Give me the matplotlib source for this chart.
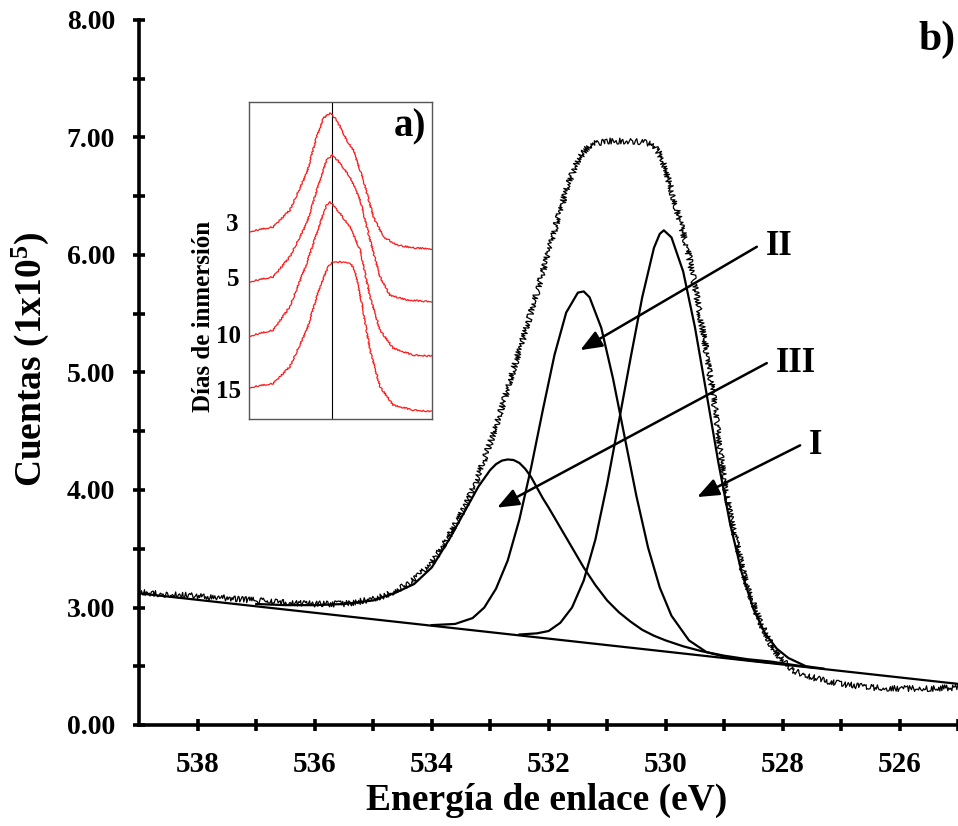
import matplotlib
matplotlib.use("Agg")
import matplotlib.pyplot as plt
from matplotlib.ticker import FixedLocator

plt.rcParams['font.family'] = ['Liberation Serif', 'DejaVu Serif']
plt.rcParams['font.weight'] = 'bold'
plt.rcParams['mathtext.fontset'] = 'custom'
plt.rcParams['mathtext.rm'] = 'Liberation Serif:bold'
plt.rcParams['mathtext.bf'] = 'Liberation Serif:bold'
plt.rcParams['mathtext.default'] = 'rm'

# ---- O 1s spectrum, counts in units of 1e5 (binding energy in eV) ----
env_E = [539.0, 538.5, 538.0, 537.5, 537.0, 536.5, 536.0, 535.5, 535.0, 534.8,
         534.6, 534.4, 534.2, 534.0, 533.8, 533.6, 533.4, 533.2, 533.0, 532.8,
         532.6, 532.4, 532.2, 532.0, 531.8, 531.7, 531.6, 531.5, 531.4, 531.3,
         531.2, 531.0, 530.8, 530.6, 530.4, 530.3, 530.2, 530.1, 530.0, 529.9,
         529.8, 529.7, 529.6, 529.5, 529.4, 529.3, 529.2, 529.1, 529.0, 528.9,
         528.8, 528.7, 528.6, 528.5, 528.4, 528.3, 528.2, 528.1, 528.0, 527.9,
         527.8, 527.6, 527.3, 527.0, 526.5, 526.0, 525.5, 525.0]
env_y = [3.13, 3.11, 3.10, 3.08, 3.06, 3.04, 3.03, 3.03, 3.07, 3.10,
         3.15, 3.20, 3.28, 3.38, 3.53, 3.70, 3.89, 4.12, 4.40, 4.70,
         5.03, 5.35, 5.68, 6.04, 6.38, 6.55, 6.69, 6.80, 6.88, 6.93,
         6.95, 6.97, 6.97, 6.97, 6.96, 6.95, 6.93, 6.86, 6.73, 6.55,
         6.37, 6.19, 5.99, 5.74, 5.46, 5.17, 4.86, 4.48, 4.08, 3.80,
         3.58, 3.36, 3.17, 3.03, 2.90, 2.79, 2.69, 2.61, 2.55, 2.50,
         2.46, 2.42, 2.38, 2.35, 2.32, 2.31, 2.31, 2.32]

# Linear background
bg_E = [539.0, 525.0]
bg_y = [3.12, 2.35]

# Component I (~530.0 eV)
p1_E = [532.5, 532.2, 532.0, 531.8, 531.6, 531.4, 531.2, 531.0, 530.8, 530.6,
        530.4, 530.2, 530.1, 530.03, 529.9, 529.7, 529.5, 529.3, 529.1, 528.9,
        528.7, 528.5, 528.3, 528.1, 527.9, 527.6, 527.3]
p1_y = [2.77, 2.78, 2.80, 2.87, 3.00, 3.23, 3.58, 4.05, 4.58, 5.12,
        5.64, 6.06, 6.18, 6.21, 6.15, 5.86, 5.39, 4.82, 4.24, 3.72,
        3.30, 2.99, 2.78, 2.65, 2.57, 2.50, 2.48]

# Component II (~531.4 eV)
p2_E = [534.0, 533.6, 533.3, 533.1, 532.9, 532.7, 532.5, 532.3, 532.1, 531.9,
        531.7, 531.5, 531.4, 531.3, 531.1, 530.9, 530.7, 530.5, 530.3, 530.1,
        529.9, 529.6, 529.3, 528.9, 528.4, 528.0]
p2_y = [2.85, 2.86, 2.91, 3.00, 3.16, 3.40, 3.75, 4.19, 4.68, 5.15,
        5.51, 5.68, 5.69, 5.64, 5.38, 4.95, 4.45, 3.95, 3.51, 3.17,
        2.93, 2.72, 2.62, 2.57, 2.54, 2.52]

# Component III (~532.7 eV)
p3_E = [537.0, 536.5, 536.0, 535.5, 535.0, 534.6, 534.3, 534.0, 533.8, 533.7,
        533.6, 533.5, 533.4, 533.3, 533.2, 533.1, 533.0, 532.9, 532.8, 532.7,
        532.6, 532.5, 532.4, 532.3, 532.2, 532.1, 532.0, 531.8, 531.6, 531.4,
        531.2, 531.0, 530.8, 530.6, 530.4, 530.2, 530.0, 529.7, 529.4, 529.0,
        528.6, 528.2, 527.8, 527.5]
p3_y = [3.03, 3.02, 3.02, 3.03, 3.06, 3.13, 3.20, 3.34, 3.50, 3.58,
        3.67, 3.76, 3.85, 3.94, 4.03, 4.10, 4.17, 4.22, 4.25, 4.26,
        4.255, 4.23, 4.18, 4.11, 4.02, 3.93, 3.85, 3.68, 3.51, 3.34,
        3.19, 3.06, 2.96, 2.88, 2.81, 2.76, 2.72, 2.67, 2.63, 2.59,
        2.56, 2.54, 2.51, 2.49]

# Axis ticks
x_major = [538, 536, 534, 532, 530, 528, 526]
x_minor = [537, 535, 533, 531, 529, 527, 525]
y_ticks = [2, 3, 4, 5, 6, 7, 8]
y_tick_labels = ['0.00', '3.00', '4.00', '5.00', '6.00', '7.00', '8.00']
y_minor = [2.5, 3.5, 4.5, 5.5, 6.5, 7.5]

# Component labels: (label, arrow tip, arrow tail)
peak_labels = [
    ('II', (531.46, 5.19), (528.44, 6.07)),
    ('III', (532.88, 3.85), (528.27, 5.08)),
    ('I', (529.46, 3.94), (527.70, 4.38)),
]

# ---- inset: spectra vs immersion days (arbitrary offset units) ----
ins_E = [537.0, 535.55, 534.55, 533.54, 532.94, 532.54, 532.13, 531.73, 531.13,
         530.73, 530.13, 529.52, 528.92, 528.11, 527.11, 526.0]
ins_3 = [5.91, 6.06, 6.59, 7.75, 8.90, 9.48, 9.64, 9.42, 8.80,
         8.48, 7.54, 6.38, 5.75, 5.49, 5.40, 5.37]
ins5_E = [537.0, 535.55, 534.55, 533.54, 532.74, 532.33, 531.97, 531.53, 530.93,
          530.32, 529.72, 529.12, 528.52, 527.51, 526.0]
ins_5 = [4.33, 4.49, 5.12, 6.17, 7.54, 8.17, 8.32, 8.06, 7.64,
         6.91, 5.65, 4.49, 3.91, 3.76, 3.70]
ins10_E = [537.0, 535.55, 534.55, 533.54, 532.74, 532.33, 532.13, 531.53, 530.93,
           530.32, 529.72, 529.12, 528.32, 527.11, 526.0]
ins_10 = [2.62, 2.81, 3.55, 4.91, 6.17, 6.75, 6.85, 6.49, 6.06,
          5.33, 3.86, 2.81, 2.24, 2.02, 1.99]
ins15_E = [537.0, 535.55, 534.55, 533.54, 532.74, 532.24, 531.93, 530.93, 530.63,
           530.22, 529.72, 529.12, 528.32, 527.11, 526.0]
ins_15 = [1.00, 1.13, 1.66, 2.81, 4.18, 4.81, 4.96, 4.93, 4.70,
          3.65, 2.18, 1.03, 0.45, 0.29, 0.24]
ins_days = ['3', '5', '10', '15']
ins_ref_E = 532.0

# ---- figure ----
W, H = 958, 826
fig = plt.figure(figsize=(W / 100, H / 100), dpi=100)
ax = fig.add_axes([139.3 / W, 1 - 725 / H, (W - 139.3) / W, 705 / H])

ax.set_xlim(539, 525)
ax.set_ylim(2, 8)
for s in ('top', 'right'):
    ax.spines[s].set_visible(False)
for s in ('left', 'bottom'):
    ax.spines[s].set_linewidth(2.6)

ax.xaxis.set_major_locator(FixedLocator(x_major))
ax.xaxis.set_minor_locator(FixedLocator(x_minor))
ax.set_xticklabels([str(v) for v in x_major])
ax.yaxis.set_major_locator(FixedLocator(y_ticks))
ax.yaxis.set_minor_locator(FixedLocator(y_minor))
ax.set_yticklabels(y_tick_labels)
ax.tick_params(which='both', direction='inout', length=9, width=2.6)
ax.tick_params(axis='x', which='major', labelsize=21, pad=14)
ax.tick_params(axis='y', which='major', labelsize=20, pad=13)

ax.set_xlabel('Energía de enlace (eV)', fontsize=27, fontweight='bold')
ax.set_ylabel('Cuentas (1x10$^{5}$)', fontsize=27, fontweight='bold')
ax.xaxis.set_label_coords(0.497, -0.082)
ax.yaxis.set_label_coords(-0.108, 0.519)

ax.plot(bg_E, bg_y, color='black', lw=1.6)
for E, y in ((p1_E, p1_y), (p2_E, p2_y), (p3_E, p3_y)):
    ax.plot(E, y, color='black', lw=1.6)
env_line, = ax.plot(env_E, env_y, color='black', lw=0.9)
env_line.set_sketch_params(scale=3.0, length=1.0, randomness=4)

for text, tip, tail in peak_labels:
    ax.annotate('', xy=tip, xytext=tail,
                arrowprops=dict(arrowstyle='-|>,head_length=0.6,head_width=0.24',
                                color='black', lw=1.8, mutation_scale=22,
                                shrinkA=0, shrinkB=0))
    ax.text(tail[0] - 0.15, tail[1], text, fontsize=25, fontweight='bold',
            ha='left', va='center')

fig.text(937 / W, 1 - 40 / H, 'b)', fontsize=30, fontweight='bold',
         ha='center', va='center')

# ---- inset ----
ins = fig.add_axes([249.3 / W, 1 - 419.3 / H, 182.4 / W, 317.6 / H])
ins.set_xlim(537, 526)
ins.set_ylim(0, 10)
ins.set_xticks([])
ins.set_yticks([])
for s in ins.spines.values():
    s.set_color('#555555')
    s.set_linewidth(1.0)
ins.axvline(ins_ref_E, color='black', lw=0.8)
for E, y in ((ins_E, ins_3), (ins5_E, ins_5), (ins10_E, ins_10), (ins15_E, ins_15)):
    ln, = ins.plot(E, y, color='#ff1a1a', lw=0.9)
    ln.set_sketch_params(scale=0.7, length=1.5, randomness=4)

ins.text(0.88, 0.92, 'a)', transform=ins.transAxes, fontsize=28,
         fontweight='bold', ha='center', va='center')
ins.text(-0.252, 0.323, 'Días de inmersión', transform=ins.transAxes,
         rotation=90, fontsize=18, fontweight='bold', ha='center', va='center')
for lbl, xa, ya in zip(ins_days, [-0.096, -0.088, -0.115, -0.115],
                       [0.612, 0.439, 0.260, 0.087]):
    ins.text(xa, ya, lbl, transform=ins.transAxes, fontsize=18,
             fontweight='bold', ha='center', va='center')

fig.savefig('out.png', dpi=100)
